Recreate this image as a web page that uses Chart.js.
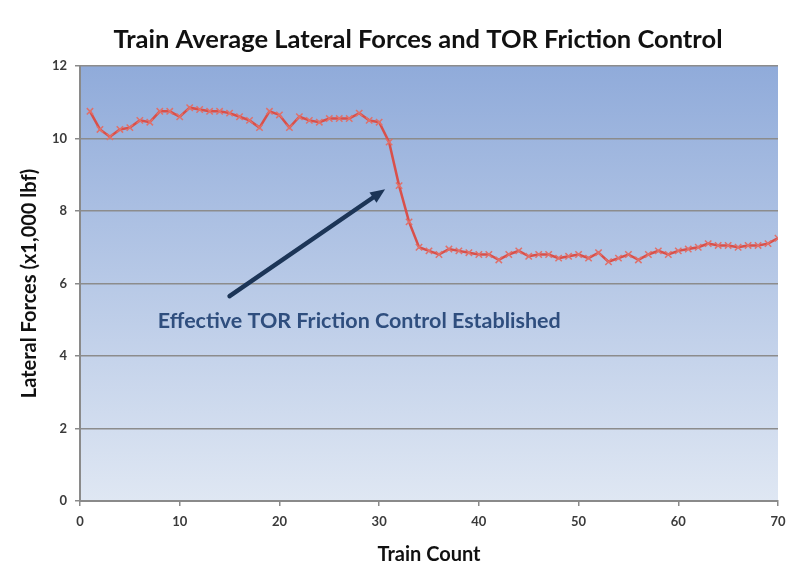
<!DOCTYPE html>
<html>
<head>
<meta charset="utf-8">
<script src="https://cdn.jsdelivr.net/npm/chart.js@4"></script>
<style>
  html, body { margin: 0; padding: 0; background: #fff; }
  #wrap { width: 786px; height: 572px; }
</style>
</head>
<body>
<div id="wrap"><canvas id="chart" width="786" height="572"></canvas></div>
<script>
const chartTitle = 'Train Average Lateral Forces and TOR Friction Control';
const noteText = 'Effective TOR Friction Control Established';
const xTitle = 'Train Count';
const yTitle = 'Lateral Forces (x1,000 lbf)';

const trainCount = [
  1, 2, 3, 4, 5, 6, 7, 8, 9, 10,
  11, 12, 13, 14, 15, 16, 17, 18, 19, 20,
  21, 22, 23, 24, 25, 26, 27, 28, 29, 30,
  31, 32, 33, 34, 35, 36, 37, 38, 39, 40,
  41, 42, 43, 44, 45, 46, 47, 48, 49, 50,
  51, 52, 53, 54, 55, 56, 57, 58, 59, 60,
  61, 62, 63, 64, 65, 66, 67, 68, 69, 70
];
const lateralForces = [
  10.75, 10.25, 10.05, 10.25, 10.3, 10.5, 10.45, 10.75, 10.75, 10.6,
  10.85, 10.8, 10.75, 10.75, 10.7, 10.6, 10.5, 10.3, 10.75, 10.65,
  10.3, 10.6, 10.5, 10.45, 10.55, 10.55, 10.55, 10.7, 10.5, 10.45,
  9.9, 8.7, 7.7, 7.0, 6.9, 6.8, 6.95, 6.9, 6.85, 6.8,
  6.8, 6.65, 6.8, 6.9, 6.75, 6.8, 6.8, 6.7, 6.75, 6.8,
  6.7, 6.85, 6.6, 6.7, 6.8, 6.65, 6.8, 6.9, 6.8, 6.9,
  6.95, 7.0, 7.1, 7.05, 7.05, 7.0, 7.05, 7.05, 7.1, 7.25
];
// arrow and note positions, in data units
const arrowFrom = { x: 15, y: 5.65 };
const arrowTo = { x: 30.6, y: 8.6 };
const notePos = { x: 7.8, y: 4.78 };

const FONT = 'Lato, "Open Sans", sans-serif';

const decor = {
  id: 'decor',
  beforeDraw(chart) {
    const { ctx, chartArea: a } = chart;
    const g = ctx.createLinearGradient(0, a.top, 0, a.bottom);
    g.addColorStop(0, '#90abda');
    g.addColorStop(1, '#dfe7f3');
    ctx.save();
    ctx.fillStyle = g;
    ctx.fillRect(a.left, a.top, a.right - a.left, a.bottom - a.top);
    ctx.restore();
  },
  afterDraw(chart) {
    const { ctx } = chart;
    const xs = chart.scales.x, ys = chart.scales.y;
    ctx.save();
    // title
    ctx.font = 'bold 25.5px ' + FONT;
    ctx.fillStyle = '#111';
    ctx.textAlign = 'center';
    ctx.textBaseline = 'alphabetic';
    ctx.fillText(chartTitle, 418, 48);

    // arrow
    const x1 = xs.getPixelForValue(arrowFrom.x), y1 = ys.getPixelForValue(arrowFrom.y);
    const x2 = xs.getPixelForValue(arrowTo.x), y2 = ys.getPixelForValue(arrowTo.y);
    const ang = Math.atan2(y2 - y1, x2 - x1);
    const head = 16;
    ctx.strokeStyle = '#1c3557';
    ctx.fillStyle = '#1c3557';
    ctx.lineWidth = 4.5;
    ctx.lineCap = 'round';
    ctx.beginPath();
    ctx.moveTo(x1, y1);
    ctx.lineTo(x2 - Math.cos(ang) * head * 0.8, y2 - Math.sin(ang) * head * 0.8);
    ctx.stroke();
    ctx.beginPath();
    ctx.moveTo(x2, y2);
    ctx.lineTo(x2 - head * Math.cos(ang - 0.4), y2 - head * Math.sin(ang - 0.4));
    ctx.lineTo(x2 - head * Math.cos(ang + 0.4), y2 - head * Math.sin(ang + 0.4));
    ctx.closePath();
    ctx.fill();

    // note
    ctx.font = 'bold 21.5px ' + FONT;
    ctx.fillStyle = '#2f4e7e';
    ctx.textAlign = 'left';
    ctx.fillText(noteText, xs.getPixelForValue(notePos.x), ys.getPixelForValue(notePos.y));
    ctx.restore();
  }
};

new Chart(document.getElementById('chart').getContext('2d'), {
  type: 'line',
  data: {
    datasets: [{
      data: trainCount.map((x, i) => ({ x: x, y: lateralForces[i] })),
      borderColor: '#d9504a',
      borderWidth: 2.5,
      pointStyle: 'crossRot',
      pointRadius: 4.5,
      pointBorderColor: '#e0706a',
      pointBorderWidth: 1.5,
      tension: 0
    }]
  },
  options: {
    responsive: false,
    animation: false,
    layout: { padding: { top: 66, right: 0, left: 0, bottom: 0 } },
    plugins: {
      legend: { display: false },
      tooltip: { enabled: false }
    },
    scales: {
      x: {
        type: 'linear',
        min: 0,
        max: 70,
        ticks: {
          stepSize: 10,
          color: '#3a3a3a',
          padding: 8,
          font: { family: FONT, size: 13, weight: 'bold' }
        },
        grid: { drawOnChartArea: false, tickColor: '#8a8a8a', tickLength: 5, lineWidth: 1.5 },
        border: { color: '#8a8a8a', width: 2 },
        title: {
          display: true,
          text: xTitle,
          color: '#111',
          font: { family: FONT, size: 20, weight: 'bold' },
          padding: { top: 4, bottom: 5 }
        },
        afterFit(s) {
          s.height = 71;
          s.paddingRight = 8;
          s.paddingLeft = 0;
        }
      },
      y: {
        min: 0,
        max: 12,
        ticks: {
          stepSize: 2,
          color: '#3a3a3a',
          padding: 8,
          font: { family: FONT, size: 13, weight: 'bold' }
        },
        grid: { color: '#8c8c8c', lineWidth: 1.5, tickColor: '#8a8a8a', tickLength: 5 },
        border: { color: '#8a8a8a', width: 2 },
        title: {
          display: true,
          text: yTitle,
          color: '#111',
          font: { family: FONT, size: 20, weight: 'bold' },
          padding: { top: 18, bottom: 4 }
        },
        afterFit(s) { s.width = 80; }
      }
    }
  },
  plugins: [decor]
});
</script>
</body>
</html>
